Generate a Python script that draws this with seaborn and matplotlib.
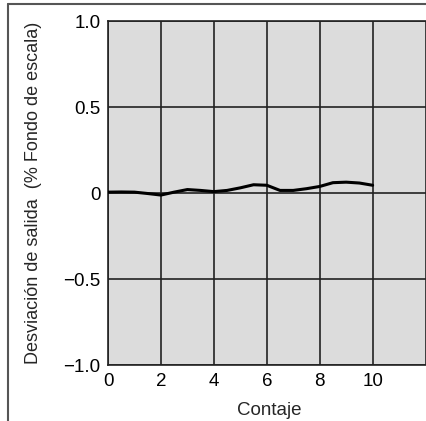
import numpy as np
import pandas as pd
import matplotlib
matplotlib.use("Agg")
import matplotlib.pyplot as plt
import seaborn as sns
from matplotlib.lines import Line2D

counts = [0, 0.5, 1, 1.5, 2, 2.5, 3, 3.5, 4, 4.5, 5, 5.5, 6, 6.5, 7, 7.5, 8, 8.5, 9, 9.5, 10]
deviation = [0.005, 0.006, 0.005, -0.003, -0.012, 0.005, 0.02, 0.015, 0.008, 0.015,
             0.03, 0.048, 0.045, 0.015, 0.015, 0.025, 0.038, 0.06, 0.063, 0.058, 0.045]
xticks = [0, 2, 4, 6, 8, 10]
yticks = [-1.0, -0.5, 0, 0.5, 1.0]
ytick_labels = ["\u22121.0", "\u22120.5", "0", "0.5", "1.0"]
xlabel = "Contaje"
ylabel = "Desviación de salida  (% Fondo de escala)"

sns.set_style("white")
plt.rcParams['font.family'] = ['Liberation Sans', 'DejaVu Sans']

df = pd.DataFrame({"x": counts, "y": deviation})

fig = plt.figure(figsize=(4.26, 4.21), dpi=100)
ax = fig.add_axes([108/426, 1 - 365/421, 1 - 108/426 + 0.01, (365 - 21)/421])
ax.set_facecolor("#dcdcdc")

sns.lineplot(data=df, x="x", y="y", ax=ax, color="black", linewidth=2.2, zorder=5)

ax.set_xlim(0, (426 - 108) / 27 + 0.4)
ax.set_ylim(-1.0, 1.0)
ax.set_xticks(xticks + [12])
ax.set_xticklabels([str(t) for t in xticks] + [""])
ax.set_yticks(yticks)
ax.set_yticklabels(ytick_labels)
ax.tick_params(axis="both", length=0, labelsize=13.5, colors="black", pad=5.5)
ax.grid(True, color="#222222", linewidth=1.2)
ax.set_axisbelow(True)
for side in ["left", "bottom", "top"]:
    ax.spines[side].set_color("#222222")
    ax.spines[side].set_linewidth(1.2)
ax.spines["right"].set_visible(False)

ax.set_xlabel(xlabel, fontsize=13.5, labelpad=9)
ax.set_ylabel(ylabel, fontsize=13, labelpad=15)

# figure frame
fig.add_artist(Line2D([8/426, 8/426], [0, 1 - 4/421], transform=fig.transFigure,
                      color="#555555", linewidth=1.5))
fig.add_artist(Line2D([8/426, 1], [1 - 4/421, 1 - 4/421], transform=fig.transFigure,
                      color="#555555", linewidth=1.5))

fig.savefig("out.png", dpi=100)
